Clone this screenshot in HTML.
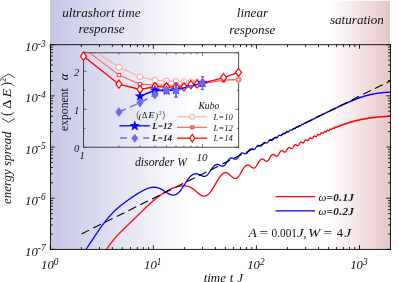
<!DOCTYPE html>
<html><head><meta charset="utf-8"><title>energy spread</title>
<style>
html,body{margin:0;padding:0;background:#fff;}
body{width:399px;height:282px;overflow:hidden;font-family:"Liberation Serif",serif;}
svg{display:block;}
text{font-family:"Liberation Serif",serif;fill:#111;}
svg{will-change:transform;}
</style></head><body>
<svg width="399" height="282" viewBox="0 0 399 282">
<defs>
<linearGradient id="gb" x1="0" x2="1" y1="0" y2="0">
<stop offset="0" stop-color="#c6c6e5"/><stop offset="1" stop-color="#ffffff"/>
</linearGradient>
<linearGradient id="gr" x1="0" x2="1" y1="0" y2="0">
<stop offset="0" stop-color="#ffffff"/><stop offset="1" stop-color="#e6c6c8"/>
</linearGradient>
<clipPath id="mainclip"><rect x="50.50" y="44.70" width="340.00" height="204.70"/></clipPath>
<clipPath id="insclip"><rect x="83.50" y="52.80" width="155.20" height="94.40"/></clipPath>
</defs>
<rect x="0" y="0" width="399" height="282" fill="#fff"/>

<rect x="50" y="0" width="140" height="249.4" fill="url(#gb)"/>
<rect x="329" y="0.8" width="61" height="248.6" fill="url(#gr)"/>
<g clip-path="url(#mainclip)" fill="none" stroke-linejoin="round">
<path d="M105.00,252.03 L105.18,251.73 L105.36,251.42 L105.54,251.12 L105.71,250.82 L105.89,250.53 L106.07,250.24 L106.25,249.95 L106.43,249.66 L106.61,249.37 L106.79,249.09 L106.96,248.81 L107.14,248.53 L107.32,248.26 L107.50,247.98 L107.68,247.71 L107.86,247.44 L108.04,247.17 L108.21,246.91 L108.39,246.65 L108.57,246.38 L108.75,246.13 L108.93,245.87 L109.11,245.61 L109.29,245.36 L109.46,245.11 L109.64,244.86 L109.82,244.61 L110.00,244.37 L110.18,244.12 L110.36,243.88 L110.54,243.64 L110.71,243.40 L110.89,243.17 L111.07,242.93 L111.25,242.70 L111.43,242.47 L111.61,242.24 L111.78,242.01 L111.96,241.78 L112.14,241.55 L112.32,241.33 L112.50,241.11 L112.68,240.89 L112.86,240.67 L113.03,240.45 L113.21,240.23 L113.39,240.01 L113.57,239.80 L113.75,239.59 L113.93,239.37 L114.11,239.16 L114.28,238.95 L114.46,238.75 L114.64,238.54 L114.82,238.33 L115.00,238.13 L115.18,237.92 L115.36,237.72 L115.53,237.52 L115.71,237.32 L115.89,237.12 L116.07,236.92 L116.25,236.72 L116.43,236.52 L116.61,236.33 L116.78,236.13 L116.96,235.94 L117.14,235.74 L117.32,235.55 L117.50,235.36 L117.68,235.17 L117.86,234.98 L118.03,234.79 L118.21,234.60 L118.39,234.41 L118.57,234.22 L118.75,234.04 L118.93,233.85 L119.11,233.66 L119.28,233.48 L119.46,233.29 L119.64,233.11 L119.82,232.93 L120.00,232.74 L120.18,232.56 L120.36,232.38 L120.53,232.20 L120.71,232.02 L120.89,231.84 L121.07,231.66 L121.25,231.48 L121.43,231.30 L121.61,231.12 L121.78,230.94 L121.96,230.77 L122.14,230.59 L122.32,230.41 L122.50,230.23 L122.68,230.06 L122.85,229.88 L123.03,229.71 L123.21,229.53 L123.39,229.36 L123.57,229.18 L123.75,229.01 L123.93,228.83 L124.10,228.66 L124.28,228.48 L124.46,228.31 L124.64,228.14 L124.82,227.96 L125.00,227.79 L125.18,227.62 L125.35,227.44 L125.53,227.27 L125.71,227.10 L125.89,226.92 L126.07,226.75 L126.25,226.58 L126.43,226.41 L126.60,226.23 L126.78,226.06 L126.96,225.89 L127.14,225.72 L127.32,225.55 L127.50,225.37 L127.68,225.20 L127.85,225.03 L128.03,224.86 L128.21,224.69 L128.39,224.51 L128.57,224.34 L128.75,224.17 L128.93,224.00 L129.10,223.83 L129.28,223.65 L129.46,223.48 L129.64,223.31 L129.82,223.14 L130.00,222.97 L130.18,222.79 L130.35,222.62 L130.53,222.45 L130.71,222.28 L130.89,222.10 L131.07,221.93 L131.25,221.76 L131.43,221.59 L131.60,221.41 L131.78,221.24 L131.96,221.07 L132.14,220.89 L132.32,220.72 L132.50,220.55 L132.68,220.37 L132.85,220.20 L133.03,220.03 L133.21,219.85 L133.39,219.68 L133.57,219.51 L133.75,219.33 L133.92,219.16 L134.10,218.98 L134.28,218.81 L134.46,218.64 L134.64,218.46 L134.82,218.29 L135.00,218.11 L135.17,217.94 L135.35,217.76 L135.53,217.59 L135.71,217.41 L135.89,217.24 L136.07,217.06 L136.25,216.89 L136.42,216.71 L136.60,216.54 L136.78,216.36 L136.96,216.19 L137.14,216.01 L137.32,215.84 L137.50,215.66 L137.67,215.49 L137.85,215.31 L138.03,215.14 L138.21,214.96 L138.39,214.79 L138.57,214.61 L138.75,214.43 L138.92,214.26 L139.10,214.08 L139.28,213.91 L139.46,213.73 L139.64,213.56 L139.82,213.38 L140.00,213.21 L140.17,213.03 L140.35,212.86 L140.53,212.68 L140.71,212.51 L140.89,212.33 L141.07,212.16 L141.25,211.98 L141.42,211.81 L141.60,211.63 L141.78,211.46 L141.96,211.28 L142.14,211.11 L142.32,210.93 L142.50,210.76 L142.67,210.59 L142.85,210.41 L143.03,210.24 L143.21,210.07 L143.39,209.89 L143.57,209.72 L143.75,209.55 L143.92,209.38 L144.10,209.20 L144.28,209.03 L144.46,208.86 L144.64,208.69 L144.82,208.52 L144.99,208.35 L145.17,208.17 L145.35,208.00 L145.53,207.83 L145.71,207.66 L145.89,207.49 L146.07,207.32 L146.24,207.16 L146.42,206.99 L146.60,206.82 L146.78,206.65 L146.96,206.48 L147.14,206.31 L147.32,206.15 L147.49,205.98 L147.67,205.81 L147.85,205.65 L148.03,205.48 L148.21,205.32 L148.39,205.15 L148.57,204.99 L148.74,204.82 L148.92,204.66 L149.10,204.49 L149.28,204.33 L149.46,204.17 L149.64,204.00 L149.82,203.84 L149.99,203.68 L150.17,203.52 L150.35,203.36 L150.53,203.20 L150.71,203.04 L150.89,202.88 L151.07,202.72 L151.24,202.56 L151.42,202.40 L151.60,202.25 L151.78,202.09 L151.96,201.93 L152.14,201.78 L152.32,201.62 L152.49,201.46 L152.67,201.31 L152.85,201.16 L153.03,201.00 L153.21,200.85 L153.39,200.70 L153.57,200.54 L153.74,200.39 L153.92,200.24 L154.10,200.09 L154.28,199.94 L154.46,199.79 L154.64,199.64 L154.82,199.49 L154.99,199.35 L155.17,199.20 L155.35,199.05 L155.53,198.91 L155.71,198.76 L155.89,198.62 L156.07,198.47 L156.24,198.33 L156.42,198.19 L156.60,198.04 L156.78,197.90 L156.96,197.76 L157.14,197.62 L157.31,197.48 L157.49,197.34 L157.67,197.20 L157.85,197.06 L158.03,196.93 L158.21,196.79 L158.39,196.65 L158.56,196.52 L158.74,196.38 L158.92,196.25 L159.10,196.12 L159.28,195.98 L159.46,195.85 L159.64,195.72 L159.81,195.59 L159.99,195.46 L160.17,195.33 L160.35,195.20 L160.53,195.07 L160.71,194.95 L160.89,194.82 L161.06,194.69 L161.24,194.57 L161.42,194.44 L161.60,194.32 L161.78,194.20 L161.96,194.07 L162.14,193.95 L162.31,193.83 L162.49,193.71 L162.67,193.59 L162.85,193.47 L163.03,193.36 L163.21,193.24 L163.39,193.12 L163.56,193.01 L163.74,192.89 L163.92,192.78 L164.10,192.67 L164.28,192.55 L164.46,192.44 L164.64,192.33 L164.81,192.22 L164.99,192.11 L165.17,192.00 L165.35,191.89 L165.53,191.79 L165.71,191.68 L165.89,191.58 L166.06,191.47 L166.24,191.37 L166.42,191.26 L166.60,191.16 L166.78,191.06 L166.96,190.96 L167.14,190.86 L167.31,190.76 L167.49,190.66 L167.67,190.57 L167.85,190.47 L168.03,190.37 L168.21,190.28 L168.38,190.19 L168.56,190.09 L168.74,190.00 L168.92,189.91 L169.10,189.82 L169.28,189.73 L169.46,189.64 L169.63,189.55 L169.81,189.46 L169.99,189.38 L170.17,189.29 L170.35,189.21 L170.53,189.13 L170.71,189.04 L170.88,188.96 L171.06,188.88 L171.24,188.80 L171.42,188.72 L171.60,188.64 L171.78,188.57 L171.96,188.49 L172.13,188.42 L172.31,188.34 L172.49,188.27 L172.67,188.19 L172.85,188.12 L173.03,188.05 L173.21,187.98 L173.38,187.91 L173.56,187.85 L173.74,187.78 L173.92,187.71 L174.10,187.65 L174.28,187.59 L174.46,187.52 L174.63,187.46 L174.81,187.40 L174.99,187.34 L175.17,187.28 L175.35,187.23 L175.53,187.17 L175.71,187.11 L175.88,187.06 L176.06,187.01 L176.24,186.95 L176.42,186.90 L176.60,186.85 L176.78,186.80 L176.96,186.76 L177.13,186.71 L177.31,186.66 L177.49,186.62 L177.67,186.57 L177.85,186.53 L178.03,186.49 L178.21,186.45 L178.38,186.41 L178.56,186.37 L178.74,186.34 L178.92,186.30 L179.10,186.27 L179.28,186.23 L179.45,186.20 L179.63,186.17 L179.81,186.14 L179.99,186.11 L180.17,186.09 L180.35,186.06 L180.53,186.04 L180.70,186.01 L180.88,185.99 L181.06,185.97 L181.24,185.95 L181.42,185.93 L181.60,185.92 L181.78,185.90 L181.95,185.89 L182.13,185.87 L182.31,185.86 L182.49,185.85 L182.67,185.84 L182.85,185.84 L183.03,185.83 L183.20,185.83 L183.38,185.82 L183.56,185.82 L183.74,185.82 L183.92,185.82 L184.10,185.83 L184.28,185.83 L184.45,185.84 L184.63,185.85 L184.81,185.86 L184.99,185.87 L185.17,185.89 L185.35,185.90 L185.53,185.92 L185.70,185.94 L185.88,185.96 L186.06,185.98 L186.24,186.01 L186.42,186.04 L186.60,186.07 L186.78,186.10 L186.95,186.13 L187.13,186.17 L187.31,186.21 L187.49,186.25 L187.67,186.29 L187.85,186.34 L188.03,186.38 L188.20,186.43 L188.38,186.49 L188.56,186.54 L188.74,186.60 L188.92,186.66 L189.10,186.73 L189.28,186.79 L189.45,186.86 L189.63,186.93 L189.81,187.01 L189.99,187.09 L190.17,187.17 L190.35,187.25 L190.53,187.34 L190.70,187.43 L190.88,187.52 L191.06,187.62 L191.24,187.72 L191.42,187.82 L191.60,187.93 L191.77,188.04 L191.95,188.15 L192.13,188.26 L192.31,188.38 L192.49,188.50 L192.67,188.62 L192.85,188.75 L193.02,188.87 L193.20,189.00 L193.38,189.14 L193.56,189.27 L193.74,189.41 L193.92,189.55 L194.10,189.69 L194.27,189.84 L194.45,189.98 L194.63,190.13 L194.81,190.28 L194.99,190.43 L195.17,190.58 L195.35,190.74 L195.52,190.89 L195.70,191.05 L195.88,191.20 L196.06,191.36 L196.24,191.52 L196.42,191.68 L196.60,191.84 L196.77,192.00 L196.95,192.15 L197.13,192.31 L197.31,192.47 L197.49,192.63 L197.67,192.78 L197.85,192.94 L198.02,193.09 L198.20,193.24 L198.38,193.39 L198.56,193.54 L198.74,193.68 L198.92,193.83 L199.10,193.97 L199.27,194.11 L199.45,194.24 L199.63,194.37 L199.81,194.50 L199.99,194.62 L200.17,194.74 L200.35,194.86 L200.52,194.97 L200.70,195.08 L200.88,195.18 L201.06,195.28 L201.24,195.37 L201.42,195.46 L201.60,195.55 L201.77,195.63 L201.95,195.70 L202.13,195.77 L202.31,195.83 L202.49,195.89 L202.67,195.94 L202.84,195.98 L203.02,196.02 L203.20,196.06 L203.38,196.08 L203.56,196.10 L203.74,196.12 L203.92,196.13 L204.09,196.13 L204.27,196.13 L204.45,196.11 L204.63,196.10 L204.81,196.07 L204.99,196.04 L205.17,196.01 L205.34,195.96 L205.52,195.91 L205.70,195.85 L205.88,195.79 L206.06,195.72 L206.24,195.64 L206.42,195.56 L206.59,195.47 L206.77,195.37 L206.95,195.26 L207.13,195.15 L207.31,195.03 L207.49,194.91 L207.67,194.78 L207.84,194.64 L208.02,194.49 L208.20,194.34 L208.38,194.18 L208.56,194.02 L208.74,193.85 L208.92,193.67 L209.09,193.49 L209.27,193.30 L209.45,193.10 L209.63,192.90 L209.81,192.70 L209.99,192.48 L210.17,192.27 L210.34,192.04 L210.52,191.81 L210.70,191.58 L210.88,191.34 L211.06,191.09 L211.24,190.84 L211.42,190.59 L211.59,190.33 L211.77,190.07 L211.95,189.80 L212.13,189.53 L212.31,189.25 L212.49,188.97 L212.67,188.69 L212.84,188.40 L213.02,188.11 L213.20,187.82 L213.38,187.52 L213.56,187.22 L213.74,186.92 L213.91,186.62 L214.09,186.31 L214.27,186.00 L214.45,185.70 L214.63,185.39 L214.81,185.07 L214.99,184.76 L215.16,184.45 L215.34,184.14 L215.52,183.82 L215.70,183.51 L215.88,183.20 L216.06,182.89 L216.24,182.57 L216.41,182.26 L216.59,181.96 L216.77,181.65 L216.95,181.35 L217.13,181.04 L217.31,180.74 L217.49,180.45 L217.66,180.15 L217.84,179.86 L218.02,179.57 L218.20,179.29 L218.38,179.01 L218.56,178.73 L218.74,178.46 L218.91,178.19 L219.09,177.93 L219.27,177.67 L219.45,177.42 L219.63,177.17 L219.81,176.92 L219.99,176.69 L220.16,176.45 L220.34,176.23 L220.52,176.00 L220.70,175.79 L220.88,175.58 L221.06,175.38 L221.24,175.18 L221.41,174.99 L221.59,174.80 L221.77,174.63 L221.95,174.46 L222.13,174.29 L222.31,174.13 L222.49,173.98 L222.66,173.84 L222.84,173.71 L223.02,173.58 L223.20,173.46 L223.38,173.34 L223.56,173.24 L223.74,173.14 L223.91,173.04 L224.09,172.96 L224.27,172.89 L224.45,172.82 L224.63,172.77 L224.81,172.73 L224.98,172.70 L225.16,172.68 L225.34,172.67 L225.52,172.67 L225.70,172.68 L225.88,172.70 L226.06,172.72 L226.23,172.76 L226.41,172.80 L226.59,172.85 L226.77,172.91 L226.95,172.98 L227.13,173.05 L227.31,173.13 L227.48,173.22 L227.66,173.32 L227.84,173.42 L228.02,173.52 L228.20,173.64 L228.38,173.75 L228.56,173.88 L228.73,174.01 L228.91,174.14 L229.09,174.28 L229.27,174.42 L229.45,174.56 L229.63,174.71 L229.81,174.86 L229.98,175.02 L230.16,175.18 L230.34,175.33 L230.52,175.49 L230.70,175.66 L230.88,175.82 L231.06,175.98 L231.23,176.14 L231.41,176.31 L231.59,176.47 L231.77,176.62 L231.95,176.78 L232.13,176.93 L232.31,177.08 L232.48,177.22 L232.66,177.36 L232.84,177.49 L233.02,177.61 L233.20,177.73 L233.38,177.84 L233.56,177.95 L233.73,178.05 L233.91,178.14 L234.09,178.23 L234.27,178.30 L234.45,178.37 L234.63,178.43 L234.81,178.48 L234.98,178.52 L235.16,178.54 L235.34,178.56 L235.52,178.56 L235.70,178.55 L235.88,178.53 L236.06,178.49 L236.23,178.44 L236.41,178.37 L236.59,178.30 L236.77,178.20 L236.95,178.10 L237.13,177.98 L237.30,177.84 L237.48,177.69 L237.66,177.53 L237.84,177.35 L238.02,177.16 L238.20,176.96 L238.38,176.75 L238.55,176.52 L238.73,176.28 L238.91,176.04 L239.09,175.78 L239.27,175.51 L239.45,175.24 L239.63,174.95 L239.80,174.66 L239.98,174.37 L240.16,174.06 L240.34,173.76 L240.52,173.45 L240.70,173.13 L240.88,172.82 L241.05,172.50 L241.23,172.18 L241.41,171.86 L241.59,171.55 L241.77,171.23 L241.95,170.92 L242.13,170.61 L242.30,170.30 L242.48,170.00 L242.66,169.70 L242.84,169.40 L243.02,169.12 L243.20,168.84 L243.38,168.56 L243.55,168.30 L243.73,168.04 L243.91,167.79 L244.09,167.55 L244.27,167.32 L244.45,167.10 L244.63,166.89 L244.80,166.69 L244.98,166.50 L245.16,166.32 L245.34,166.15 L245.52,166.00 L245.70,165.85 L245.88,165.72 L246.05,165.60 L246.23,165.49 L246.41,165.39 L246.59,165.31 L246.77,165.24 L246.95,165.18 L247.13,165.13 L247.30,165.10 L247.48,165.08 L247.66,165.07 L247.84,165.07 L248.02,165.08 L248.20,165.11 L248.37,165.15 L248.55,165.19 L248.73,165.25 L248.91,165.32 L249.09,165.40 L249.27,165.49 L249.45,165.58 L249.62,165.69 L249.80,165.80 L249.98,165.92 L250.16,166.04 L250.34,166.17 L250.52,166.30 L250.70,166.44 L250.87,166.58 L251.05,166.72 L251.23,166.86 L251.41,166.99 L251.59,167.13 L251.77,167.26 L251.95,167.39 L252.12,167.51 L252.30,167.62 L252.48,167.72 L252.66,167.82 L252.84,167.90 L253.02,167.97 L253.20,168.02 L253.37,168.06 L253.55,168.09 L253.73,168.09 L253.91,168.08 L254.09,168.05 L254.27,168.01 L254.45,167.94 L254.62,167.85 L254.80,167.74 L254.98,167.62 L255.16,167.47 L255.34,167.31 L255.52,167.13 L255.70,166.93 L255.87,166.71 L256.05,166.48 L256.23,166.23 L256.41,165.98 L256.59,165.71 L256.77,165.42 L256.95,165.14 L257.12,164.84 L257.30,164.54 L257.48,164.23 L257.66,163.92 L257.84,163.61 L258.02,163.30 L258.20,162.99 L258.37,162.69 L258.55,162.39 L258.73,162.10 L258.91,161.81 L259.09,161.54 L259.27,161.27 L259.44,161.01 L259.62,160.77 L259.80,160.54 L259.98,160.33 L260.16,160.12 L260.34,159.94 L260.52,159.77 L260.69,159.62 L260.87,159.48 L261.05,159.36 L261.23,159.26 L261.41,159.18 L261.59,159.11 L261.77,159.06 L261.94,159.03 L262.12,159.02 L262.30,159.03 L262.48,159.05 L262.66,159.09 L262.84,159.14 L263.02,159.21 L263.19,159.29 L263.37,159.38 L263.55,159.49 L263.73,159.60 L263.91,159.73 L264.09,159.86 L264.27,159.99 L264.44,160.13 L264.62,160.28 L264.80,160.42 L264.98,160.55 L265.16,160.69 L265.34,160.81 L265.52,160.93 L265.69,161.03 L265.87,161.12 L266.05,161.20 L266.23,161.26 L266.41,161.29 L266.59,161.31 L266.77,161.30 L266.94,161.27 L267.12,161.22 L267.30,161.14 L267.48,161.03 L267.66,160.90 L267.84,160.75 L268.02,160.57 L268.19,160.37 L268.37,160.15 L268.55,159.91 L268.73,159.65 L268.91,159.38 L269.09,159.10 L269.27,158.80 L269.44,158.50 L269.62,158.20 L269.80,157.89 L269.98,157.58 L270.16,157.28 L270.34,156.98 L270.52,156.69 L270.69,156.41 L270.87,156.14 L271.05,155.89 L271.23,155.65 L271.41,155.43 L271.59,155.23 L271.76,155.06 L271.94,154.90 L272.12,154.76 L272.30,154.65 L272.48,154.56 L272.66,154.49 L272.84,154.45 L273.01,154.43 L273.19,154.43 L273.37,154.45 L273.55,154.50 L273.73,154.56 L273.91,154.65 L274.09,154.74 L274.26,154.85 L274.44,154.98 L274.62,155.11 L274.80,155.25 L274.98,155.39 L275.16,155.53 L275.34,155.67 L275.51,155.80 L275.69,155.92 L275.87,156.02 L276.05,156.11 L276.23,156.18 L276.41,156.22 L276.59,156.24 L276.76,156.23 L276.94,156.20 L277.12,156.13 L277.30,156.03 L277.48,155.90 L277.66,155.74 L277.84,155.55 L278.01,155.34 L278.19,155.10 L278.37,154.85 L278.55,154.57 L278.73,154.28 L278.91,153.98 L279.09,153.68 L279.26,153.37 L279.44,153.07 L279.62,152.77 L279.80,152.48 L279.98,152.20 L280.16,151.94 L280.34,151.69 L280.51,151.47 L280.69,151.28 L280.87,151.11 L281.05,150.96 L281.23,150.84 L281.41,150.76 L281.59,150.70 L281.76,150.67 L281.94,150.67 L282.12,150.69 L282.30,150.74 L282.48,150.81 L282.66,150.91 L282.83,151.02 L283.01,151.14 L283.19,151.28 L283.37,151.41 L283.55,151.55 L283.73,151.69 L283.91,151.82 L284.08,151.93 L284.26,152.03 L284.44,152.10 L284.62,152.14 L284.80,152.16 L284.98,152.14 L285.16,152.08 L285.33,151.99 L285.51,151.86 L285.69,151.70 L285.87,151.51 L286.05,151.28 L286.23,151.03 L286.41,150.76 L286.58,150.47 L286.76,150.17 L286.94,149.86 L287.12,149.55 L287.30,149.25 L287.48,148.96 L287.66,148.68 L287.83,148.43 L288.01,148.20 L288.19,147.99 L288.37,147.82 L288.55,147.67 L288.73,147.57 L288.91,147.49 L289.08,147.45 L289.26,147.45 L289.44,147.47 L289.62,147.53 L289.80,147.61 L289.98,147.71 L290.16,147.83 L290.33,147.97 L290.51,148.10 L290.69,148.24 L290.87,148.37 L291.05,148.49 L291.23,148.59 L291.41,148.66 L291.58,148.70 L291.76,148.70 L291.94,148.66 L292.12,148.58 L292.30,148.46 L292.48,148.30 L292.66,148.10 L292.83,147.87 L293.01,147.61 L293.19,147.32 L293.37,147.03 L293.55,146.72 L293.73,146.41 L293.90,146.11 L294.08,145.82 L294.26,145.55 L294.44,145.31 L294.62,145.10 L294.80,144.93 L294.98,144.79 L295.15,144.69 L295.33,144.63 L295.51,144.61 L295.69,144.63 L295.87,144.69 L296.05,144.77 L296.23,144.88 L296.40,145.00 L296.58,145.14 L296.76,145.27 L296.94,145.40 L297.12,145.52 L297.30,145.61 L297.48,145.67 L297.65,145.69 L297.83,145.67 L298.01,145.61 L298.19,145.49 L298.37,145.33 L298.55,145.13 L298.73,144.89 L298.90,144.61 L299.08,144.32 L299.26,144.01 L299.44,143.71 L299.62,143.40 L299.80,143.11 L299.98,142.85 L300.15,142.62 L300.33,142.42 L300.51,142.27 L300.69,142.16 L300.87,142.10 L301.05,142.08 L301.23,142.10 L301.40,142.16 L301.58,142.25 L301.76,142.37 L301.94,142.50 L302.12,142.64 L302.30,142.77 L302.48,142.88 L302.65,142.97 L302.83,143.02 L303.01,143.02 L303.19,142.98 L303.37,142.88 L303.55,142.73 L303.73,142.53 L303.90,142.28 L304.08,142.01 L304.26,141.71 L304.44,141.40 L304.62,141.10 L304.80,140.80 L304.97,140.53 L305.15,140.30 L305.33,140.10 L305.51,139.96 L305.69,139.86 L305.87,139.81 L306.05,139.81 L306.22,139.86 L306.40,139.95 L306.58,140.06 L306.76,140.20 L306.94,140.33 L307.12,140.46 L307.30,140.57 L307.47,140.64 L307.65,140.67 L307.83,140.64 L308.01,140.56 L308.19,140.42 L308.37,140.22 L308.55,139.98 L308.72,139.70 L308.90,139.40 L309.08,139.09 L309.26,138.79 L309.44,138.51 L309.62,138.27 L309.80,138.06 L309.97,137.91 L310.15,137.82 L310.33,137.78 L310.51,137.79 L310.69,137.86 L310.87,137.96 L311.05,138.08 L311.22,138.22 L311.40,138.36 L311.58,138.47 L311.76,138.54 L311.94,138.57 L312.12,138.53 L312.30,138.44 L312.47,138.28 L312.65,138.06 L312.83,137.80 L313.01,137.51 L313.19,137.20 L313.37,136.90 L313.55,136.62 L313.72,136.37 L313.90,136.18 L314.08,136.04 L314.26,135.96 L314.44,135.95 L314.62,135.99 L314.80,136.08 L314.97,136.20 L315.15,136.34 L315.33,136.47 L315.51,136.59 L315.69,136.66 L315.87,136.68 L316.05,136.63 L316.22,136.51 L316.40,136.33 L316.58,136.09 L316.76,135.81 L316.94,135.51 L317.12,135.21 L317.29,134.92 L317.47,134.68 L317.65,134.49 L317.83,134.36 L318.01,134.29 L318.19,134.30 L318.37,134.36 L318.54,134.47 L318.72,134.60 L318.90,134.74 L319.08,134.87 L319.26,134.95 L319.44,134.97 L319.62,134.93 L319.79,134.81 L319.97,134.62 L320.15,134.37 L320.33,134.09 L320.51,133.78 L320.69,133.49 L320.87,133.22 L321.04,133.01 L321.22,132.86 L321.40,132.79 L321.58,132.79 L321.76,132.85 L321.94,132.96 L322.12,133.10 L322.29,133.24 L322.47,133.35 L322.65,133.42 L322.83,133.42 L323.01,133.34 L323.19,133.18 L323.37,132.95 L323.54,132.67 L323.72,132.37 L323.90,132.08 L324.08,131.81 L324.26,131.61 L324.44,131.47 L324.62,131.41 L324.79,131.42 L324.97,131.50 L325.15,131.63 L325.33,131.77 L325.51,131.90 L325.69,131.99 L325.87,132.02 L326.04,131.96 L326.22,131.82 L326.40,131.60 L326.58,131.32 L326.76,131.03 L326.94,130.73 L327.12,130.48 L327.29,130.29 L327.47,130.18 L327.65,130.15 L327.83,130.20 L328.01,130.30 L328.19,130.44 L328.36,130.59 L328.54,130.69 L328.72,130.73 L328.90,130.69 L329.08,130.55 L329.26,130.34 L329.44,130.07 L329.61,129.77 L329.79,129.48 L329.97,129.24 L330.15,129.08 L330.33,129.00 L330.51,129.01 L330.69,129.09 L330.86,129.22 L331.04,129.37 L331.22,129.49 L331.40,129.55 L331.58,129.53 L331.76,129.41 L331.94,129.20 L332.11,128.93 L332.29,128.63 L332.47,128.35 L332.65,128.13 L332.83,127.98 L333.01,127.94 L333.19,127.98 L333.36,128.09 L333.54,128.23 L333.72,128.37 L333.90,128.46 L334.08,128.47 L334.26,128.38 L334.44,128.19 L334.61,127.93 L334.79,127.63 L334.97,127.36 L335.15,127.13 L335.33,127.00 L335.51,126.97 L335.69,127.02 L335.86,127.15 L336.04,127.30 L336.22,127.43 L336.40,127.49 L336.58,127.45 L336.76,127.31 L336.94,127.08 L337.11,126.79 L337.29,126.51 L337.47,126.27 L337.65,126.12 L337.83,126.07 L338.01,126.13 L338.19,126.25 L338.36,126.41 L338.54,126.53 L338.72,126.59 L338.90,126.53 L339.08,126.37 L339.26,126.12 L339.43,125.84 L339.61,125.57 L339.79,125.36 L339.97,125.26 L340.15,125.27 L340.33,125.38 L340.51,125.53 L340.68,125.67 L340.86,125.75 L341.04,125.72 L341.22,125.58 L341.40,125.34 L341.58,125.06 L341.76,124.79 L341.93,124.60 L342.11,124.51 L342.29,124.53 L342.47,124.65 L342.65,124.81 L342.83,124.94 L343.01,124.99 L343.18,124.92 L343.36,124.74 L343.54,124.48 L343.72,124.20 L343.90,123.97 L344.08,123.83 L344.26,123.82 L344.43,123.92 L344.61,124.07 L344.79,124.22 L344.97,124.29 L345.15,124.24 L345.33,124.07 L345.51,123.81 L345.68,123.53 L345.86,123.31 L346.04,123.19 L346.22,123.20 L346.40,123.31 L346.58,123.48 L346.76,123.61 L346.93,123.65 L347.11,123.55 L347.29,123.34 L347.47,123.07 L347.65,122.81 L347.83,122.64 L348.01,122.60 L348.18,122.68 L348.36,122.84 L348.54,122.99 L348.72,123.06 L348.90,122.99 L349.08,122.80 L349.26,122.53 L349.43,122.28 L349.61,122.10 L349.79,122.07 L349.97,122.15 L350.15,122.32 L350.33,122.46 L350.51,122.51 L350.68,122.43 L350.86,122.21 L351.04,121.94 L351.22,121.70 L351.40,121.58 L351.58,121.60 L351.75,121.73 L351.93,121.90 L352.11,122.01 L352.29,121.99 L352.47,121.82 L352.65,121.56 L352.83,121.31 L353.00,121.15 L353.18,121.13 L353.36,121.25 L353.54,121.42 L353.72,121.54 L353.90,121.54 L354.08,121.38 L354.25,121.13 L354.43,120.88 L354.61,120.73 L354.79,120.72 L354.97,120.85 L355.15,121.02 L355.33,121.13 L355.50,121.10 L355.68,120.91 L355.86,120.65 L356.04,120.43 L356.22,120.33 L356.40,120.38 L356.58,120.55 L356.75,120.70 L356.93,120.75 L357.11,120.63 L357.29,120.39 L357.47,120.14 L357.65,119.99 L357.83,120.00 L358.00,120.14 L358.18,120.32 L358.36,120.40 L358.54,120.31 L358.72,120.09 L358.90,119.84 L359.08,119.68 L359.25,119.68 L359.43,119.82 L359.61,119.99 L359.79,120.07 L359.97,119.98 L360.15,119.75 L360.33,119.50 L360.50,119.37 L360.68,119.40 L360.86,119.56 L361.04,119.73 L361.22,119.76 L361.40,119.62 L361.58,119.37 L361.75,119.16 L361.93,119.09 L362.11,119.19 L362.29,119.38 L362.47,119.49 L362.65,119.43 L362.82,119.22 L363.00,118.97 L363.18,118.84 L363.36,118.89 L363.54,119.07 L363.72,119.22 L363.90,119.21 L364.07,119.02 L364.25,118.78 L364.43,118.62 L364.61,118.65 L364.79,118.82 L364.97,118.97 L365.15,118.98 L365.32,118.80 L365.50,118.55 L365.68,118.41 L365.86,118.45 L366.04,118.62 L366.22,118.77 L366.40,118.75 L366.57,118.55 L366.75,118.31 L366.93,118.20 L367.11,118.29 L367.29,118.47 L367.47,118.58 L367.65,118.50 L367.82,118.27 L368.00,118.06 L368.18,118.04 L368.36,118.19 L368.54,118.36 L368.72,118.38 L368.90,118.20 L369.07,117.97 L369.25,117.86 L369.43,117.95 L369.61,118.14 L369.79,118.23 L369.97,118.11 L370.15,117.87 L370.32,117.71 L370.50,117.76 L370.68,117.94 L370.86,118.07 L371.04,117.99 L371.22,117.75 L371.40,117.58 L371.57,117.60 L371.75,117.78 L371.93,117.92 L372.11,117.84 L372.29,117.62 L372.47,117.44 L372.65,117.48 L372.82,117.67 L373.00,117.78 L373.18,117.69 L373.36,117.45 L373.54,117.31 L373.72,117.39 L373.89,117.58 L374.07,117.66 L374.25,117.51 L374.43,117.28 L374.61,117.20 L374.79,117.34 L374.97,117.51 L375.14,117.51 L375.32,117.30 L375.50,117.11 L375.68,117.14 L375.86,117.32 L376.04,117.43 L376.22,117.31 L376.39,117.08 L376.57,117.00 L376.75,117.14 L376.93,117.31 L377.11,117.28 L377.29,117.06 L377.47,116.91 L377.64,116.99 L377.82,117.18 L378.00,117.22 L378.18,117.03 L378.36,116.84 L378.54,116.87 L378.72,117.07 L378.89,117.14 L379.07,116.98 L379.25,116.78 L379.43,116.78 L379.61,116.97 L379.79,117.06 L379.97,116.91 L380.14,116.70 L380.32,116.71 L380.50,116.90 L380.68,116.98 L380.86,116.82 L381.04,116.63 L381.22,116.66 L381.39,116.85 L381.57,116.90 L381.75,116.72 L381.93,116.55 L382.11,116.63 L382.29,116.82 L382.47,116.81 L382.64,116.60 L382.82,116.49 L383.00,116.63 L383.18,116.78 L383.36,116.69 L383.54,116.47 L383.72,116.46 L383.89,116.65 L384.07,116.72 L384.25,116.54 L384.43,116.38 L384.61,116.48 L384.79,116.66 L384.96,116.60 L385.14,116.38 L385.32,116.36 L385.50,116.55 L385.68,116.61 L385.86,116.41 L386.04,116.29 L386.21,116.42 L386.39,116.57 L386.57,116.45 L386.75,116.26 L386.93,116.32 L387.11,116.51 L387.29,116.46 L387.46,116.25 L387.64,116.24 L387.82,116.43 L388.00,116.45 L388.18,116.24 L388.36,116.18 L388.54,116.36 L388.71,116.43 L388.89,116.23 L389.07,116.14 L389.25,116.31 L389.43,116.39 L389.61,116.21 L389.79,116.10 L389.96,116.27 L390.14,116.36 L390.32,116.17 L390.50,116.07" stroke="#ff0000" stroke-width="1.3"/>
<path d="M84.00,252.06 L84.19,251.80 L84.38,251.54 L84.58,251.28 L84.77,251.01 L84.96,250.75 L85.15,250.48 L85.34,250.21 L85.53,249.94 L85.73,249.67 L85.92,249.40 L86.11,249.13 L86.30,248.85 L86.49,248.58 L86.68,248.30 L86.88,248.03 L87.07,247.75 L87.26,247.47 L87.45,247.19 L87.64,246.91 L87.83,246.63 L88.03,246.35 L88.22,246.06 L88.41,245.78 L88.60,245.50 L88.79,245.21 L88.98,244.93 L89.18,244.64 L89.37,244.35 L89.56,244.07 L89.75,243.78 L89.94,243.49 L90.13,243.20 L90.33,242.91 L90.52,242.63 L90.71,242.34 L90.90,242.05 L91.09,241.76 L91.28,241.47 L91.48,241.18 L91.67,240.89 L91.86,240.60 L92.05,240.31 L92.24,240.02 L92.43,239.73 L92.63,239.44 L92.82,239.14 L93.01,238.85 L93.20,238.56 L93.39,238.27 L93.58,237.98 L93.78,237.69 L93.97,237.40 L94.16,237.11 L94.35,236.82 L94.54,236.54 L94.73,236.25 L94.93,235.96 L95.12,235.67 L95.31,235.38 L95.50,235.10 L95.69,234.81 L95.88,234.52 L96.08,234.24 L96.27,233.95 L96.46,233.66 L96.65,233.38 L96.84,233.10 L97.03,232.81 L97.23,232.53 L97.42,232.25 L97.61,231.96 L97.80,231.68 L97.99,231.40 L98.18,231.12 L98.38,230.84 L98.57,230.57 L98.76,230.29 L98.95,230.01 L99.14,229.73 L99.33,229.46 L99.53,229.18 L99.72,228.91 L99.91,228.64 L100.10,228.37 L100.29,228.09 L100.48,227.82 L100.68,227.55 L100.87,227.29 L101.06,227.02 L101.25,226.75 L101.44,226.48 L101.63,226.22 L101.83,225.96 L102.02,225.69 L102.21,225.43 L102.40,225.17 L102.59,224.91 L102.78,224.65 L102.98,224.39 L103.17,224.14 L103.36,223.88 L103.55,223.63 L103.74,223.37 L103.93,223.12 L104.13,222.87 L104.32,222.62 L104.51,222.37 L104.70,222.12 L104.89,221.87 L105.09,221.63 L105.28,221.38 L105.47,221.14 L105.66,220.90 L105.85,220.66 L106.04,220.42 L106.24,220.18 L106.43,219.94 L106.62,219.71 L106.81,219.47 L107.00,219.24 L107.19,219.00 L107.39,218.77 L107.58,218.54 L107.77,218.31 L107.96,218.09 L108.15,217.86 L108.34,217.63 L108.54,217.41 L108.73,217.19 L108.92,216.97 L109.11,216.75 L109.30,216.53 L109.49,216.31 L109.69,216.09 L109.88,215.88 L110.07,215.66 L110.26,215.45 L110.45,215.24 L110.64,215.03 L110.84,214.82 L111.03,214.61 L111.22,214.40 L111.41,214.20 L111.60,213.99 L111.79,213.79 L111.99,213.59 L112.18,213.39 L112.37,213.19 L112.56,212.99 L112.75,212.79 L112.94,212.60 L113.14,212.40 L113.33,212.21 L113.52,212.02 L113.71,211.83 L113.90,211.64 L114.09,211.45 L114.29,211.26 L114.48,211.08 L114.67,210.89 L114.86,210.71 L115.05,210.52 L115.24,210.34 L115.44,210.16 L115.63,209.98 L115.82,209.80 L116.01,209.63 L116.20,209.45 L116.39,209.27 L116.59,209.10 L116.78,208.93 L116.97,208.75 L117.16,208.58 L117.35,208.41 L117.54,208.24 L117.74,208.08 L117.93,207.91 L118.12,207.74 L118.31,207.58 L118.50,207.41 L118.69,207.25 L118.89,207.09 L119.08,206.93 L119.27,206.76 L119.46,206.60 L119.65,206.45 L119.84,206.29 L120.04,206.13 L120.23,205.97 L120.42,205.82 L120.61,205.66 L120.80,205.51 L120.99,205.35 L121.19,205.20 L121.38,205.05 L121.57,204.90 L121.76,204.75 L121.95,204.60 L122.14,204.45 L122.34,204.30 L122.53,204.15 L122.72,204.00 L122.91,203.85 L123.10,203.71 L123.29,203.56 L123.49,203.42 L123.68,203.27 L123.87,203.13 L124.06,202.98 L124.25,202.84 L124.44,202.69 L124.64,202.55 L124.83,202.41 L125.02,202.27 L125.21,202.13 L125.40,201.99 L125.60,201.84 L125.79,201.70 L125.98,201.56 L126.17,201.43 L126.36,201.29 L126.55,201.15 L126.75,201.01 L126.94,200.87 L127.13,200.73 L127.32,200.60 L127.51,200.46 L127.70,200.32 L127.90,200.19 L128.09,200.05 L128.28,199.91 L128.47,199.78 L128.66,199.64 L128.85,199.51 L129.05,199.38 L129.24,199.24 L129.43,199.11 L129.62,198.97 L129.81,198.84 L130.00,198.71 L130.20,198.57 L130.39,198.44 L130.58,198.31 L130.77,198.18 L130.96,198.05 L131.15,197.92 L131.35,197.78 L131.54,197.65 L131.73,197.52 L131.92,197.39 L132.11,197.26 L132.30,197.13 L132.50,197.00 L132.69,196.87 L132.88,196.75 L133.07,196.62 L133.26,196.49 L133.45,196.36 L133.65,196.23 L133.84,196.11 L134.03,195.98 L134.22,195.85 L134.41,195.73 L134.60,195.60 L134.80,195.48 L134.99,195.35 L135.18,195.23 L135.37,195.10 L135.56,194.98 L135.75,194.85 L135.95,194.73 L136.14,194.61 L136.33,194.49 L136.52,194.36 L136.71,194.24 L136.90,194.12 L137.10,194.00 L137.29,193.88 L137.48,193.76 L137.67,193.64 L137.86,193.52 L138.05,193.40 L138.25,193.29 L138.44,193.17 L138.63,193.05 L138.82,192.94 L139.01,192.82 L139.20,192.71 L139.40,192.59 L139.59,192.48 L139.78,192.36 L139.97,192.25 L140.16,192.14 L140.35,192.03 L140.55,191.92 L140.74,191.81 L140.93,191.70 L141.12,191.59 L141.31,191.48 L141.50,191.38 L141.70,191.27 L141.89,191.17 L142.08,191.06 L142.27,190.96 L142.46,190.86 L142.65,190.75 L142.85,190.65 L143.04,190.55 L143.23,190.45 L143.42,190.36 L143.61,190.26 L143.80,190.16 L144.00,190.07 L144.19,189.97 L144.38,189.88 L144.57,189.79 L144.76,189.70 L144.95,189.61 L145.15,189.52 L145.34,189.44 L145.53,189.35 L145.72,189.27 L145.91,189.18 L146.11,189.10 L146.30,189.02 L146.49,188.94 L146.68,188.86 L146.87,188.79 L147.06,188.71 L147.26,188.64 L147.45,188.57 L147.64,188.50 L147.83,188.43 L148.02,188.36 L148.21,188.29 L148.41,188.23 L148.60,188.17 L148.79,188.11 L148.98,188.05 L149.17,187.99 L149.36,187.93 L149.56,187.88 L149.75,187.83 L149.94,187.78 L150.13,187.73 L150.32,187.68 L150.51,187.64 L150.71,187.60 L150.90,187.56 L151.09,187.52 L151.28,187.48 L151.47,187.45 L151.66,187.42 L151.86,187.39 L152.05,187.36 L152.24,187.34 L152.43,187.32 L152.62,187.30 L152.81,187.28 L153.01,187.26 L153.20,187.25 L153.39,187.24 L153.58,187.23 L153.77,187.23 L153.96,187.23 L154.16,187.23 L154.35,187.23 L154.54,187.23 L154.73,187.24 L154.92,187.25 L155.11,187.27 L155.31,187.29 L155.50,187.31 L155.69,187.33 L155.88,187.35 L156.07,187.38 L156.26,187.42 L156.46,187.45 L156.65,187.49 L156.84,187.53 L157.03,187.57 L157.22,187.62 L157.41,187.67 L157.61,187.72 L157.80,187.78 L157.99,187.83 L158.18,187.90 L158.37,187.96 L158.56,188.03 L158.76,188.10 L158.95,188.17 L159.14,188.24 L159.33,188.32 L159.52,188.40 L159.71,188.48 L159.91,188.57 L160.10,188.66 L160.29,188.75 L160.48,188.84 L160.67,188.94 L160.86,189.04 L161.06,189.13 L161.25,189.24 L161.44,189.34 L161.63,189.45 L161.82,189.55 L162.01,189.66 L162.21,189.78 L162.40,189.89 L162.59,190.00 L162.78,190.12 L162.97,190.24 L163.16,190.36 L163.36,190.48 L163.55,190.60 L163.74,190.72 L163.93,190.84 L164.12,190.97 L164.31,191.09 L164.51,191.21 L164.70,191.34 L164.89,191.46 L165.08,191.59 L165.27,191.72 L165.46,191.84 L165.66,191.97 L165.85,192.09 L166.04,192.21 L166.23,192.34 L166.42,192.46 L166.62,192.58 L166.81,192.70 L167.00,192.82 L167.19,192.94 L167.38,193.05 L167.57,193.16 L167.77,193.28 L167.96,193.39 L168.15,193.49 L168.34,193.60 L168.53,193.70 L168.72,193.80 L168.92,193.90 L169.11,193.99 L169.30,194.09 L169.49,194.17 L169.68,194.26 L169.87,194.34 L170.07,194.42 L170.26,194.49 L170.45,194.57 L170.64,194.63 L170.83,194.70 L171.02,194.75 L171.22,194.81 L171.41,194.86 L171.60,194.91 L171.79,194.95 L171.98,194.98 L172.17,195.02 L172.37,195.04 L172.56,195.06 L172.75,195.08 L172.94,195.09 L173.13,195.10 L173.32,195.10 L173.52,195.09 L173.71,195.08 L173.90,195.07 L174.09,195.05 L174.28,195.02 L174.47,194.98 L174.67,194.94 L174.86,194.90 L175.05,194.84 L175.24,194.78 L175.43,194.72 L175.62,194.64 L175.82,194.56 L176.01,194.48 L176.20,194.38 L176.39,194.28 L176.58,194.18 L176.77,194.06 L176.97,193.94 L177.16,193.81 L177.35,193.68 L177.54,193.53 L177.73,193.38 L177.92,193.22 L178.12,193.06 L178.31,192.89 L178.50,192.71 L178.69,192.52 L178.88,192.33 L179.07,192.13 L179.27,191.93 L179.46,191.72 L179.65,191.50 L179.84,191.27 L180.03,191.04 L180.22,190.81 L180.42,190.57 L180.61,190.32 L180.80,190.07 L180.99,189.81 L181.18,189.55 L181.37,189.29 L181.57,189.02 L181.76,188.74 L181.95,188.47 L182.14,188.19 L182.33,187.90 L182.52,187.62 L182.72,187.33 L182.91,187.04 L183.10,186.75 L183.29,186.45 L183.48,186.15 L183.67,185.86 L183.87,185.56 L184.06,185.26 L184.25,184.96 L184.44,184.65 L184.63,184.35 L184.82,184.05 L185.02,183.75 L185.21,183.45 L185.40,183.15 L185.59,182.85 L185.78,182.56 L185.97,182.26 L186.17,181.97 L186.36,181.67 L186.55,181.38 L186.74,181.10 L186.93,180.81 L187.13,180.53 L187.32,180.26 L187.51,179.98 L187.70,179.71 L187.89,179.45 L188.08,179.18 L188.28,178.93 L188.47,178.67 L188.66,178.43 L188.85,178.18 L189.04,177.95 L189.23,177.71 L189.43,177.49 L189.62,177.27 L189.81,177.05 L190.00,176.85 L190.19,176.65 L190.38,176.45 L190.58,176.26 L190.77,176.08 L190.96,175.91 L191.15,175.74 L191.34,175.58 L191.53,175.43 L191.73,175.28 L191.92,175.14 L192.11,175.01 L192.30,174.88 L192.49,174.77 L192.68,174.65 L192.88,174.55 L193.07,174.45 L193.26,174.35 L193.45,174.27 L193.64,174.19 L193.83,174.12 L194.03,174.05 L194.22,173.99 L194.41,173.93 L194.60,173.89 L194.79,173.84 L194.98,173.81 L195.18,173.78 L195.37,173.76 L195.56,173.74 L195.75,173.73 L195.94,173.73 L196.13,173.73 L196.33,173.74 L196.52,173.76 L196.71,173.78 L196.90,173.80 L197.09,173.84 L197.28,173.87 L197.48,173.92 L197.67,173.96 L197.86,174.02 L198.05,174.07 L198.24,174.14 L198.43,174.20 L198.63,174.28 L198.82,174.35 L199.01,174.43 L199.20,174.51 L199.39,174.60 L199.58,174.69 L199.78,174.78 L199.97,174.87 L200.16,174.96 L200.35,175.06 L200.54,175.15 L200.73,175.25 L200.93,175.35 L201.12,175.44 L201.31,175.53 L201.50,175.63 L201.69,175.72 L201.88,175.80 L202.08,175.89 L202.27,175.97 L202.46,176.04 L202.65,176.11 L202.84,176.18 L203.03,176.23 L203.23,176.28 L203.42,176.33 L203.61,176.36 L203.80,176.39 L203.99,176.41 L204.18,176.41 L204.38,176.41 L204.57,176.40 L204.76,176.38 L204.95,176.34 L205.14,176.29 L205.33,176.24 L205.53,176.16 L205.72,176.08 L205.91,175.99 L206.10,175.88 L206.29,175.76 L206.48,175.63 L206.68,175.48 L206.87,175.33 L207.06,175.16 L207.25,174.98 L207.44,174.79 L207.64,174.58 L207.83,174.37 L208.02,174.15 L208.21,173.92 L208.40,173.68 L208.59,173.43 L208.79,173.18 L208.98,172.91 L209.17,172.65 L209.36,172.37 L209.55,172.09 L209.74,171.81 L209.94,171.53 L210.13,171.24 L210.32,170.95 L210.51,170.66 L210.70,170.37 L210.89,170.09 L211.09,169.80 L211.28,169.51 L211.47,169.23 L211.66,168.95 L211.85,168.68 L212.04,168.41 L212.24,168.14 L212.43,167.88 L212.62,167.63 L212.81,167.38 L213.00,167.14 L213.19,166.91 L213.39,166.69 L213.58,166.48 L213.77,166.27 L213.96,166.08 L214.15,165.90 L214.34,165.72 L214.54,165.56 L214.73,165.41 L214.92,165.27 L215.11,165.14 L215.30,165.02 L215.49,164.91 L215.69,164.81 L215.88,164.73 L216.07,164.66 L216.26,164.60 L216.45,164.55 L216.64,164.51 L216.84,164.48 L217.03,164.47 L217.22,164.46 L217.41,164.47 L217.60,164.48 L217.79,164.51 L217.99,164.55 L218.18,164.59 L218.37,164.64 L218.56,164.71 L218.75,164.77 L218.94,164.85 L219.14,164.93 L219.33,165.02 L219.52,165.10 L219.71,165.20 L219.90,165.29 L220.09,165.39 L220.29,165.48 L220.48,165.58 L220.67,165.67 L220.86,165.76 L221.05,165.84 L221.24,165.92 L221.44,165.99 L221.63,166.05 L221.82,166.10 L222.01,166.14 L222.20,166.17 L222.39,166.19 L222.59,166.19 L222.78,166.17 L222.97,166.15 L223.16,166.10 L223.35,166.04 L223.54,165.96 L223.74,165.86 L223.93,165.75 L224.12,165.62 L224.31,165.47 L224.50,165.30 L224.69,165.12 L224.89,164.93 L225.08,164.71 L225.27,164.49 L225.46,164.25 L225.65,164.00 L225.84,163.75 L226.04,163.48 L226.23,163.20 L226.42,162.93 L226.61,162.64 L226.80,162.36 L226.99,162.07 L227.19,161.78 L227.38,161.50 L227.57,161.22 L227.76,160.94 L227.95,160.67 L228.15,160.41 L228.34,160.15 L228.53,159.91 L228.72,159.67 L228.91,159.45 L229.10,159.24 L229.30,159.05 L229.49,158.87 L229.68,158.70 L229.87,158.55 L230.06,158.42 L230.25,158.30 L230.45,158.20 L230.64,158.12 L230.83,158.05 L231.02,158.00 L231.21,157.96 L231.40,157.95 L231.60,157.94 L231.79,157.95 L231.98,157.98 L232.17,158.02 L232.36,158.07 L232.55,158.13 L232.75,158.21 L232.94,158.29 L233.13,158.37 L233.32,158.46 L233.51,158.56 L233.70,158.65 L233.90,158.75 L234.09,158.84 L234.28,158.93 L234.47,159.00 L234.66,159.07 L234.85,159.13 L235.05,159.18 L235.24,159.20 L235.43,159.22 L235.62,159.21 L235.81,159.18 L236.00,159.13 L236.20,159.06 L236.39,158.97 L236.58,158.85 L236.77,158.72 L236.96,158.56 L237.15,158.38 L237.35,158.18 L237.54,157.96 L237.73,157.72 L237.92,157.47 L238.11,157.21 L238.30,156.94 L238.50,156.66 L238.69,156.38 L238.88,156.09 L239.07,155.81 L239.26,155.52 L239.45,155.24 L239.65,154.97 L239.84,154.71 L240.03,154.46 L240.22,154.23 L240.41,154.01 L240.60,153.81 L240.80,153.63 L240.99,153.46 L241.18,153.32 L241.37,153.20 L241.56,153.10 L241.75,153.02 L241.95,152.96 L242.14,152.93 L242.33,152.91 L242.52,152.92 L242.71,152.94 L242.90,152.98 L243.10,153.04 L243.29,153.10 L243.48,153.18 L243.67,153.27 L243.86,153.36 L244.05,153.46 L244.25,153.55 L244.44,153.64 L244.63,153.73 L244.82,153.80 L245.01,153.86 L245.20,153.90 L245.40,153.92 L245.59,153.92 L245.78,153.89 L245.97,153.84 L246.16,153.76 L246.35,153.65 L246.55,153.52 L246.74,153.35 L246.93,153.17 L247.12,152.96 L247.31,152.73 L247.51,152.48 L247.70,152.21 L247.89,151.94 L248.08,151.66 L248.27,151.37 L248.46,151.09 L248.66,150.81 L248.85,150.53 L249.04,150.27 L249.23,150.02 L249.42,149.79 L249.61,149.59 L249.81,149.40 L250.00,149.24 L250.19,149.10 L250.38,148.99 L250.57,148.91 L250.76,148.85 L250.96,148.82 L251.15,148.81 L251.34,148.83 L251.53,148.87 L251.72,148.93 L251.91,149.00 L252.11,149.08 L252.30,149.17 L252.49,149.27 L252.68,149.36 L252.87,149.45 L253.06,149.53 L253.26,149.59 L253.45,149.63 L253.64,149.65 L253.83,149.64 L254.02,149.60 L254.21,149.52 L254.41,149.42 L254.60,149.28 L254.79,149.11 L254.98,148.91 L255.17,148.69 L255.36,148.44 L255.56,148.18 L255.75,147.90 L255.94,147.62 L256.13,147.34 L256.32,147.05 L256.51,146.78 L256.71,146.52 L256.90,146.28 L257.09,146.06 L257.28,145.87 L257.47,145.71 L257.66,145.57 L257.86,145.47 L258.05,145.40 L258.24,145.36 L258.43,145.35 L258.62,145.37 L258.81,145.42 L259.01,145.48 L259.20,145.56 L259.39,145.65 L259.58,145.75 L259.77,145.84 L259.96,145.92 L260.16,145.99 L260.35,146.04 L260.54,146.07 L260.73,146.06 L260.92,146.01 L261.11,145.93 L261.31,145.81 L261.50,145.66 L261.69,145.47 L261.88,145.25 L262.07,145.00 L262.26,144.73 L262.46,144.45 L262.65,144.17 L262.84,143.88 L263.03,143.61 L263.22,143.35 L263.41,143.11 L263.61,142.90 L263.80,142.72 L263.99,142.58 L264.18,142.47 L264.37,142.40 L264.56,142.37 L264.76,142.37 L264.95,142.40 L265.14,142.45 L265.33,142.53 L265.52,142.62 L265.71,142.71 L265.91,142.81 L266.10,142.89 L266.29,142.95 L266.48,142.98 L266.67,142.98 L266.86,142.94 L267.06,142.86 L267.25,142.73 L267.44,142.57 L267.63,142.36 L267.82,142.13 L268.02,141.86 L268.21,141.59 L268.40,141.30 L268.59,141.02 L268.78,140.75 L268.97,140.50 L269.17,140.27 L269.36,140.08 L269.55,139.93 L269.74,139.82 L269.93,139.75 L270.12,139.73 L270.32,139.74 L270.51,139.78 L270.70,139.85 L270.89,139.94 L271.08,140.03 L271.27,140.13 L271.47,140.20 L271.66,140.26 L271.85,140.28 L272.04,140.26 L272.23,140.19 L272.42,140.08 L272.62,139.92 L272.81,139.72 L273.00,139.48 L273.19,139.21 L273.38,138.93 L273.57,138.65 L273.77,138.37 L273.96,138.11 L274.15,137.88 L274.34,137.69 L274.53,137.54 L274.72,137.44 L274.92,137.38 L275.11,137.37 L275.30,137.40 L275.49,137.46 L275.68,137.55 L275.87,137.64 L276.07,137.73 L276.26,137.81 L276.45,137.86 L276.64,137.86 L276.83,137.83 L277.02,137.73 L277.22,137.59 L277.41,137.40 L277.60,137.16 L277.79,136.90 L277.98,136.62 L278.17,136.33 L278.37,136.06 L278.56,135.81 L278.75,135.60 L278.94,135.44 L279.13,135.32 L279.32,135.26 L279.52,135.24 L279.71,135.28 L279.90,135.34 L280.09,135.43 L280.28,135.52 L280.47,135.61 L280.67,135.67 L280.86,135.69 L281.05,135.67 L281.24,135.58 L281.43,135.44 L281.62,135.24 L281.82,135.01 L282.01,134.74 L282.20,134.45 L282.39,134.17 L282.58,133.91 L282.77,133.69 L282.97,133.51 L283.16,133.38 L283.35,133.32 L283.54,133.30 L283.73,133.34 L283.92,133.41 L284.12,133.50 L284.31,133.59 L284.50,133.67 L284.69,133.71 L284.88,133.70 L285.07,133.63 L285.27,133.50 L285.46,133.31 L285.65,133.07 L285.84,132.79 L286.03,132.51 L286.22,132.23 L286.42,131.98 L286.61,131.78 L286.80,131.63 L286.99,131.54 L287.18,131.52 L287.37,131.54 L287.57,131.61 L287.76,131.70 L287.95,131.80 L288.14,131.87 L288.33,131.90 L288.53,131.87 L288.72,131.77 L288.91,131.61 L289.10,131.39 L289.29,131.13 L289.48,130.84 L289.68,130.56 L289.87,130.31 L290.06,130.11 L290.25,129.96 L290.44,129.88 L290.63,129.87 L290.83,129.91 L291.02,129.99 L291.21,130.08 L291.40,130.16 L291.59,130.21 L291.78,130.20 L291.98,130.12 L292.17,129.97 L292.36,129.76 L292.55,129.50 L292.74,129.21 L292.93,128.94 L293.13,128.69 L293.32,128.50 L293.51,128.38 L293.70,128.33 L293.89,128.34 L294.08,128.41 L294.28,128.50 L294.47,128.59 L294.66,128.65 L294.85,128.65 L295.04,128.57 L295.23,128.42 L295.43,128.20 L295.62,127.93 L295.81,127.65 L296.00,127.38 L296.19,127.15 L296.38,126.99 L296.58,126.90 L296.77,126.89 L296.96,126.94 L297.15,127.03 L297.34,127.12 L297.53,127.19 L297.73,127.19 L297.92,127.12 L298.11,126.96 L298.30,126.74 L298.49,126.47 L298.68,126.18 L298.88,125.92 L299.07,125.72 L299.26,125.59 L299.45,125.54 L299.64,125.57 L299.83,125.64 L300.03,125.74 L300.22,125.81 L300.41,125.83 L300.60,125.77 L300.79,125.62 L300.98,125.39 L301.18,125.12 L301.37,124.84 L301.56,124.58 L301.75,124.40 L301.94,124.29 L302.13,124.27 L302.33,124.32 L302.52,124.41 L302.71,124.50 L302.90,124.54 L303.09,124.51 L303.28,124.38 L303.48,124.17 L303.67,123.91 L303.86,123.62 L304.05,123.37 L304.24,123.18 L304.43,123.08 L304.63,123.07 L304.82,123.13 L305.01,123.22 L305.20,123.30 L305.39,123.32 L305.58,123.25 L305.78,123.09 L305.97,122.84 L306.16,122.56 L306.35,122.29 L306.54,122.08 L306.73,121.96 L306.93,121.93 L307.12,121.98 L307.31,122.07 L307.50,122.15 L307.69,122.17 L307.88,122.10 L308.08,121.92 L308.27,121.67 L308.46,121.39 L308.65,121.13 L308.84,120.94 L309.04,120.85 L309.23,120.86 L309.42,120.93 L309.61,121.02 L309.80,121.08 L309.99,121.04 L310.19,120.90 L310.38,120.67 L310.57,120.39 L310.76,120.12 L310.95,119.92 L311.14,119.82 L311.34,119.82 L311.53,119.90 L311.72,119.99 L311.91,120.03 L312.10,119.98 L312.29,119.82 L312.49,119.57 L312.68,119.29 L312.87,119.04 L313.06,118.88 L313.25,118.83 L313.44,118.87 L313.64,118.96 L313.83,119.03 L314.02,119.02 L314.21,118.90 L314.40,118.67 L314.59,118.39 L314.79,118.13 L314.98,117.95 L315.17,117.88 L315.36,117.92 L315.55,118.01 L315.74,118.08 L315.94,118.06 L316.13,117.93 L316.32,117.69 L316.51,117.41 L316.70,117.16 L316.89,117.01 L317.09,116.98 L317.28,117.05 L317.47,117.14 L317.66,117.18 L317.85,117.10 L318.04,116.91 L318.24,116.63 L318.43,116.37 L318.62,116.18 L318.81,116.11 L319.00,116.16 L319.19,116.25 L319.39,116.30 L319.58,116.25 L319.77,116.06 L319.96,115.79 L320.15,115.52 L320.34,115.34 L320.54,115.28 L320.73,115.33 L320.92,115.42 L321.11,115.46 L321.30,115.38 L321.49,115.17 L321.69,114.89 L321.88,114.64 L322.07,114.50 L322.26,114.49 L322.45,114.57 L322.64,114.65 L322.84,114.63 L323.03,114.47 L323.22,114.21 L323.41,113.94 L323.60,113.76 L323.79,113.71 L323.99,113.77 L324.18,113.86 L324.37,113.86 L324.56,113.73 L324.75,113.48 L324.94,113.21 L325.14,113.01 L325.33,112.96 L325.52,113.02 L325.71,113.11 L325.90,113.11 L326.09,112.96 L326.29,112.70 L326.48,112.43 L326.67,112.27 L326.86,112.25 L327.05,112.33 L327.24,112.40 L327.44,112.35 L327.63,112.15 L327.82,111.87 L328.01,111.64 L328.20,111.55 L328.39,111.59 L328.59,111.68 L328.78,111.69 L328.97,111.55 L329.16,111.28 L329.35,111.03 L329.55,110.89 L329.74,110.90 L329.93,110.99 L330.12,111.02 L330.31,110.91 L330.50,110.65 L330.70,110.39 L330.89,110.24 L331.08,110.25 L331.27,110.34 L331.46,110.37 L331.65,110.24 L331.85,109.99 L332.04,109.73 L332.23,109.60 L332.42,109.63 L332.61,109.72 L332.80,109.72 L333.00,109.56 L333.19,109.28 L333.38,109.06 L333.57,108.99 L333.76,109.06 L333.95,109.13 L334.15,109.06 L334.34,108.83 L334.53,108.56 L334.72,108.41 L334.91,108.43 L335.10,108.52 L335.30,108.52 L335.49,108.34 L335.68,108.06 L335.87,107.86 L336.06,107.84 L336.25,107.92 L336.45,107.96 L336.64,107.81 L336.83,107.55 L337.02,107.33 L337.21,107.28 L337.40,107.36 L337.60,107.40 L337.79,107.27 L337.98,107.00 L338.17,106.78 L338.36,106.74 L338.55,106.82 L338.75,106.86 L338.94,106.71 L339.13,106.44 L339.32,106.24 L339.51,106.23 L339.70,106.32 L339.90,106.31 L340.09,106.12 L340.28,105.85 L340.47,105.71 L340.66,105.75 L340.85,105.83 L341.05,105.75 L341.24,105.51 L341.43,105.27 L341.62,105.22 L341.81,105.30 L342.00,105.32 L342.20,105.14 L342.39,104.88 L342.58,104.74 L342.77,104.79 L342.96,104.86 L343.15,104.75 L343.35,104.49 L343.54,104.29 L343.73,104.30 L343.92,104.39 L344.11,104.33 L344.30,104.09 L344.50,103.86 L344.69,103.84 L344.88,103.93 L345.07,103.90 L345.26,103.67 L345.45,103.44 L345.65,103.40 L345.84,103.49 L346.03,103.47 L346.22,103.24 L346.41,103.01 L346.60,102.98 L346.80,103.07 L346.99,103.03 L347.18,102.79 L347.37,102.58 L347.56,102.58 L347.75,102.66 L347.95,102.58 L348.14,102.33 L348.33,102.16 L348.52,102.20 L348.71,102.27 L348.90,102.12 L349.10,101.86 L349.29,101.77 L349.48,101.85 L349.67,101.85 L349.86,101.63 L350.06,101.41 L350.25,101.42 L350.44,101.50 L350.63,101.39 L350.82,101.13 L351.01,101.03 L351.21,101.11 L351.40,101.11 L351.59,100.88 L351.78,100.69 L351.97,100.72 L352.16,100.78 L352.36,100.62 L352.55,100.38 L352.74,100.35 L352.93,100.44 L353.12,100.35 L353.31,100.10 L353.51,100.00 L353.70,100.10 L353.89,100.06 L354.08,99.82 L354.27,99.68 L354.46,99.76 L354.66,99.76 L354.85,99.53 L355.04,99.37 L355.23,99.44 L355.42,99.46 L355.61,99.23 L355.81,99.07 L356.00,99.14 L356.19,99.16 L356.38,98.93 L356.57,98.78 L356.76,98.86 L356.96,98.85 L357.15,98.62 L357.34,98.50 L357.53,98.59 L357.72,98.55 L357.91,98.31 L358.11,98.24 L358.30,98.34 L358.49,98.24 L358.68,98.00 L358.87,98.00 L359.06,98.08 L359.26,97.91 L359.45,97.72 L359.64,97.78 L359.83,97.80 L360.02,97.57 L360.21,97.47 L360.41,97.57 L360.60,97.48 L360.79,97.26 L360.98,97.28 L361.17,97.34 L361.36,97.14 L361.56,97.01 L361.75,97.11 L361.94,97.04 L362.13,96.82 L362.32,96.83 L362.51,96.89 L362.71,96.69 L362.90,96.58 L363.09,96.69 L363.28,96.58 L363.47,96.38 L363.66,96.45 L363.86,96.45 L364.05,96.23 L364.24,96.21 L364.43,96.29 L364.62,96.10 L364.81,96.00 L365.01,96.10 L365.20,95.98 L365.39,95.81 L365.58,95.91 L365.77,95.85 L365.96,95.65 L366.16,95.71 L366.35,95.71 L366.54,95.50 L366.73,95.52 L366.92,95.56 L367.11,95.36 L367.31,95.35 L367.50,95.41 L367.69,95.21 L367.88,95.19 L368.07,95.27 L368.26,95.07 L368.46,95.04 L368.65,95.12 L368.84,94.93 L369.03,94.90 L369.22,94.98 L369.41,94.78 L369.61,94.77 L369.80,94.83 L369.99,94.64 L370.18,94.65 L370.37,94.69 L370.57,94.49 L370.76,94.55 L370.95,94.55 L371.14,94.36 L371.33,94.45 L371.52,94.39 L371.72,94.24 L371.91,94.35 L372.10,94.23 L372.29,94.14 L372.48,94.24 L372.67,94.07 L372.87,94.07 L373.06,94.12 L373.25,93.93 L373.44,94.01 L373.63,93.96 L373.82,93.83 L374.02,93.94 L374.21,93.79 L374.40,93.78 L374.59,93.83 L374.78,93.65 L374.97,93.75 L375.17,93.66 L375.36,93.58 L375.55,93.67 L375.74,93.50 L375.93,93.56 L376.12,93.52 L376.32,93.41 L376.51,93.52 L376.70,93.35 L376.89,93.40 L377.08,93.37 L377.27,93.26 L377.47,93.37 L377.66,93.20 L377.85,93.27 L378.04,93.22 L378.23,93.14 L378.42,93.22 L378.62,93.06 L378.81,93.17 L379.00,93.05 L379.19,93.06 L379.38,93.06 L379.57,92.95 L379.77,93.05 L379.96,92.89 L380.15,92.99 L380.34,92.88 L380.53,92.89 L380.72,92.89 L380.92,92.80 L381.11,92.89 L381.30,92.74 L381.49,92.85 L381.68,92.71 L381.87,92.78 L382.07,92.70 L382.26,92.70 L382.45,92.70 L382.64,92.63 L382.83,92.69 L383.02,92.57 L383.22,92.67 L383.41,92.52 L383.60,92.64 L383.79,92.49 L383.98,92.59 L384.17,92.47 L384.37,92.54 L384.56,92.45 L384.75,92.49 L384.94,92.44 L385.13,92.45 L385.32,92.42 L385.52,92.41 L385.71,92.40 L385.90,92.37 L386.09,92.38 L386.28,92.34 L386.47,92.35 L386.67,92.31 L386.86,92.32 L387.05,92.28 L387.24,92.29 L387.43,92.26 L387.62,92.26 L387.82,92.24 L388.01,92.23 L388.20,92.23 L388.39,92.19 L388.58,92.22 L388.77,92.15 L388.97,92.21 L389.16,92.12 L389.35,92.20 L389.54,92.09 L389.73,92.19 L389.92,92.06 L390.12,92.16 L390.31,92.06 L390.50,92.12" stroke="#0000ff" stroke-width="1.3"/>
<path d="M81.50,233.90 L390.50,80.80" stroke="#000" stroke-width="1.1" stroke-dasharray="8.5,4.6"/>
</g>
<rect x="50.50" y="44.70" width="340.00" height="204.70" fill="none" stroke="#111" stroke-width="0.95"/>
<path d="M50.30,249.40 v-4.10 M50.30,44.70 v4.10 M81.33,249.40 v-2.40 M81.33,44.70 v2.40 M99.48,249.40 v-2.40 M99.48,44.70 v2.40 M112.35,249.40 v-2.40 M112.35,44.70 v2.40 M122.34,249.40 v-2.40 M122.34,44.70 v2.40 M130.50,249.40 v-2.40 M130.50,44.70 v2.40 M137.40,249.40 v-2.40 M137.40,44.70 v2.40 M143.38,249.40 v-2.40 M143.38,44.70 v2.40 M148.65,249.40 v-2.40 M148.65,44.70 v2.40 M153.37,249.40 v-4.10 M153.37,44.70 v4.10 M184.40,249.40 v-2.40 M184.40,44.70 v2.40 M202.55,249.40 v-2.40 M202.55,44.70 v2.40 M215.42,249.40 v-2.40 M215.42,44.70 v2.40 M225.41,249.40 v-2.40 M225.41,44.70 v2.40 M233.57,249.40 v-2.40 M233.57,44.70 v2.40 M240.47,249.40 v-2.40 M240.47,44.70 v2.40 M246.45,249.40 v-2.40 M246.45,44.70 v2.40 M251.72,249.40 v-2.40 M251.72,44.70 v2.40 M256.44,249.40 v-4.10 M256.44,44.70 v4.10 M287.47,249.40 v-2.40 M287.47,44.70 v2.40 M305.62,249.40 v-2.40 M305.62,44.70 v2.40 M318.49,249.40 v-2.40 M318.49,44.70 v2.40 M328.48,249.40 v-2.40 M328.48,44.70 v2.40 M336.64,249.40 v-2.40 M336.64,44.70 v2.40 M343.54,249.40 v-2.40 M343.54,44.70 v2.40 M349.52,249.40 v-2.40 M349.52,44.70 v2.40 M354.79,249.40 v-2.40 M354.79,44.70 v2.40 M359.51,249.40 v-4.10 M359.51,44.70 v4.10 M390.54,249.40 v-2.40 M390.54,44.70 v2.40 M50.50,249.40 h4.10 M390.50,249.40 h-4.10 M50.50,233.99 h2.40 M390.50,233.99 h-2.40 M50.50,224.98 h2.40 M390.50,224.98 h-2.40 M50.50,218.59 h2.40 M390.50,218.59 h-2.40 M50.50,213.63 h2.40 M390.50,213.63 h-2.40 M50.50,209.58 h2.40 M390.50,209.58 h-2.40 M50.50,206.15 h2.40 M390.50,206.15 h-2.40 M50.50,203.18 h2.40 M390.50,203.18 h-2.40 M50.50,200.57 h2.40 M390.50,200.57 h-2.40 M50.50,198.23 h4.10 M390.50,198.23 h-4.10 M50.50,182.82 h2.40 M390.50,182.82 h-2.40 M50.50,173.81 h2.40 M390.50,173.81 h-2.40 M50.50,167.41 h2.40 M390.50,167.41 h-2.40 M50.50,162.46 h2.40 M390.50,162.46 h-2.40 M50.50,158.40 h2.40 M390.50,158.40 h-2.40 M50.50,154.98 h2.40 M390.50,154.98 h-2.40 M50.50,152.01 h2.40 M390.50,152.01 h-2.40 M50.50,149.39 h2.40 M390.50,149.39 h-2.40 M50.50,147.05 h4.10 M390.50,147.05 h-4.10 M50.50,131.64 h2.40 M390.50,131.64 h-2.40 M50.50,122.63 h2.40 M390.50,122.63 h-2.40 M50.50,116.24 h2.40 M390.50,116.24 h-2.40 M50.50,111.28 h2.40 M390.50,111.28 h-2.40 M50.50,107.23 h2.40 M390.50,107.23 h-2.40 M50.50,103.80 h2.40 M390.50,103.80 h-2.40 M50.50,100.83 h2.40 M390.50,100.83 h-2.40 M50.50,98.22 h2.40 M390.50,98.22 h-2.40 M50.50,95.88 h4.10 M390.50,95.88 h-4.10 M50.50,80.47 h2.40 M390.50,80.47 h-2.40 M50.50,71.46 h2.40 M390.50,71.46 h-2.40 M50.50,65.06 h2.40 M390.50,65.06 h-2.40 M50.50,60.11 h2.40 M390.50,60.11 h-2.40 M50.50,56.05 h2.40 M390.50,56.05 h-2.40 M50.50,52.63 h2.40 M390.50,52.63 h-2.40 M50.50,49.66 h2.40 M390.50,49.66 h-2.40 M50.50,47.04 h2.40 M390.50,47.04 h-2.40 M50.50,44.70 h4.10 M390.50,44.70 h-4.10" stroke="#000" stroke-width="0.85" fill="none"/>
<rect x="83.50" y="52.80" width="155.20" height="94.40" fill="none" stroke="#222" stroke-width="0.8"/>
<path d="M83.50,147.20 v-3.20 M83.50,52.80 v3.20 M118.90,147.20 v-1.80 M118.90,52.80 v1.80 M139.96,147.20 v-1.80 M139.96,52.80 v1.80 M154.91,147.20 v-1.80 M154.91,52.80 v1.80 M166.50,147.20 v-1.80 M166.50,52.80 v1.80 M175.97,147.20 v-1.80 M175.97,52.80 v1.80 M183.97,147.20 v-1.80 M183.97,52.80 v1.80 M190.91,147.20 v-1.80 M190.91,52.80 v1.80 M197.03,147.20 v-1.80 M197.03,52.80 v1.80 M202.50,147.20 v-3.20 M202.50,52.80 v3.20 M238.50,147.20 v-1.80 M238.50,52.80 v1.80 M83.50,147.50 h3.20 M238.70,147.50 h-3.20 M83.50,128.45 h1.80 M238.70,128.45 h-1.80 M83.50,109.40 h3.20 M238.70,109.40 h-3.20 M83.50,90.35 h1.80 M238.70,90.35 h-1.80 M83.50,71.30 h3.20 M238.70,71.30 h-3.20 M83.50,52.25 h1.80 M238.70,52.25 h-1.80" stroke="#222" stroke-width="0.6" fill="none"/>
<g clip-path="url(#insclip)">
<path d="M83.50,43.80 L118.90,67.10 L139.96,76.80 L154.91,80.30 L166.50,81.00 L175.97,81.40 L183.97,81.60 L190.91,81.80 L197.03,82.00 L202.50,82.00 L223.56,80.20 L238.50,79.60" stroke="#ffa0a0" stroke-width="1" fill="none"/>
<path d="M83.50,48.00 L118.90,75.00 L139.96,84.20 L154.91,85.00 L166.50,85.20 L175.97,85.20 L183.97,85.20 L190.91,85.00 L197.03,84.60 L202.50,84.00 L223.56,80.00 L238.50,79.60" stroke="#ff4848" stroke-width="1" fill="none"/>
</g>
<path d="M83.50,56.20 L118.90,84.20 L139.96,89.50 L154.91,86.60 L166.50,86.80 L175.97,87.00 L183.97,87.00 L190.91,84.70 L197.03,84.00 L202.50,83.30 L223.56,77.60 L238.50,72.40" stroke="#ff0000" stroke-width="1.3" fill="none" stroke-linejoin="round"/>
<circle cx="118.90" cy="67.10" r="2.85" fill="#fff" stroke="#ffa0a0" stroke-width="1"/>
<circle cx="139.96" cy="76.80" r="2.85" fill="#fff" stroke="#ffa0a0" stroke-width="1"/>
<circle cx="154.91" cy="80.30" r="2.85" fill="#fff" stroke="#ffa0a0" stroke-width="1"/>
<circle cx="166.50" cy="81.00" r="2.85" fill="#fff" stroke="#ffa0a0" stroke-width="1"/>
<circle cx="175.97" cy="81.40" r="2.85" fill="#fff" stroke="#ffa0a0" stroke-width="1"/>
<circle cx="183.97" cy="81.60" r="2.85" fill="#fff" stroke="#ffa0a0" stroke-width="1"/>
<circle cx="190.91" cy="81.80" r="2.85" fill="#fff" stroke="#ffa0a0" stroke-width="1"/>
<circle cx="197.03" cy="82.00" r="2.85" fill="#fff" stroke="#ffa0a0" stroke-width="1"/>
<circle cx="202.50" cy="82.00" r="2.85" fill="#fff" stroke="#ffa0a0" stroke-width="1"/>
<circle cx="223.56" cy="80.20" r="2.85" fill="#fff" stroke="#ffa0a0" stroke-width="1"/>
<circle cx="238.50" cy="79.60" r="2.85" fill="#fff" stroke="#ffa0a0" stroke-width="1"/>
<rect x="117.30" y="73.40" width="3.2" height="3.2" fill="#fff" stroke="#ff4848" stroke-width="1.05"/>
<rect x="138.36" y="82.60" width="3.2" height="3.2" fill="#fff" stroke="#ff4848" stroke-width="1.05"/>
<rect x="153.31" y="83.40" width="3.2" height="3.2" fill="#fff" stroke="#ff4848" stroke-width="1.05"/>
<rect x="164.90" y="83.60" width="3.2" height="3.2" fill="#fff" stroke="#ff4848" stroke-width="1.05"/>
<rect x="174.37" y="83.60" width="3.2" height="3.2" fill="#fff" stroke="#ff4848" stroke-width="1.05"/>
<rect x="182.37" y="83.60" width="3.2" height="3.2" fill="#fff" stroke="#ff4848" stroke-width="1.05"/>
<rect x="189.31" y="83.40" width="3.2" height="3.2" fill="#fff" stroke="#ff4848" stroke-width="1.05"/>
<rect x="195.43" y="83.00" width="3.2" height="3.2" fill="#fff" stroke="#ff4848" stroke-width="1.05"/>
<rect x="200.90" y="82.40" width="3.2" height="3.2" fill="#fff" stroke="#ff4848" stroke-width="1.05"/>
<rect x="221.96" y="78.40" width="3.2" height="3.2" fill="#fff" stroke="#ff4848" stroke-width="1.05"/>
<rect x="236.90" y="78.00" width="3.2" height="3.2" fill="#fff" stroke="#ff4848" stroke-width="1.05"/>
<path d="M83.50,52.10 l3.00,4.10 l-3.00,4.10 l-3.00,-4.10 z" fill="#fff" stroke="#ff0000" stroke-width="1.2"/>
<path d="M118.90,80.10 l3.00,4.10 l-3.00,4.10 l-3.00,-4.10 z" fill="#fff" stroke="#ff0000" stroke-width="1.2"/>
<path d="M139.96,85.40 l3.00,4.10 l-3.00,4.10 l-3.00,-4.10 z" fill="#fff" stroke="#ff0000" stroke-width="1.2"/>
<path d="M154.91,82.50 l3.00,4.10 l-3.00,4.10 l-3.00,-4.10 z" fill="#fff" stroke="#ff0000" stroke-width="1.2"/>
<path d="M166.50,82.70 l3.00,4.10 l-3.00,4.10 l-3.00,-4.10 z" fill="#fff" stroke="#ff0000" stroke-width="1.2"/>
<path d="M175.97,82.90 l3.00,4.10 l-3.00,4.10 l-3.00,-4.10 z" fill="#fff" stroke="#ff0000" stroke-width="1.2"/>
<path d="M183.97,82.90 l3.00,4.10 l-3.00,4.10 l-3.00,-4.10 z" fill="#fff" stroke="#ff0000" stroke-width="1.2"/>
<path d="M190.91,80.60 l3.00,4.10 l-3.00,4.10 l-3.00,-4.10 z" fill="#fff" stroke="#ff0000" stroke-width="1.2"/>
<path d="M197.03,79.90 l3.00,4.10 l-3.00,4.10 l-3.00,-4.10 z" fill="#fff" stroke="#ff0000" stroke-width="1.2"/>
<path d="M202.50,79.20 l3.00,4.10 l-3.00,4.10 l-3.00,-4.10 z" fill="#fff" stroke="#ff0000" stroke-width="1.2"/>
<path d="M223.56,73.50 l3.00,4.10 l-3.00,4.10 l-3.00,-4.10 z" fill="#fff" stroke="#ff0000" stroke-width="1.2"/>
<path d="M238.50,68.30 l3.00,4.10 l-3.00,4.10 l-3.00,-4.10 z" fill="#fff" stroke="#ff0000" stroke-width="1.2"/>


<path d="M166.50,89.10 V92.10 M164.90,89.10 h3.20 M164.90,92.10 h3.20" stroke="#0000ff" stroke-width="0.90" fill="none"/>
<path d="M175.97,83.00 V97.00 M174.37,83.00 h3.20 M174.37,97.00 h3.20" stroke="#0000ff" stroke-width="0.90" fill="none"/>
<path d="M202.50,76.80 V89.40 M200.90,76.80 h3.20 M200.90,89.40 h3.20" stroke="#0000ff" stroke-width="0.90" fill="none"/>
<path d="M139.96,96.30 L154.91,90.30 L166.50,90.60 L175.97,90.00 L202.50,83.10" stroke="#0000ff" stroke-width="1.5" fill="none"/>
<path d="M139.96,91.40 L141.06,94.79 L144.62,94.79 L141.74,96.88 L142.84,100.26 L139.96,98.17 L137.08,100.26 L138.18,96.88 L135.30,94.79 L138.86,94.79z" fill="#0000ff" stroke="#0000ff" stroke-width="0.5"/>
<path d="M154.91,85.40 L156.01,88.79 L159.57,88.79 L156.69,90.88 L157.79,94.26 L154.91,92.17 L152.03,94.26 L153.13,90.88 L150.25,88.79 L153.81,88.79z" fill="#0000ff" stroke="#0000ff" stroke-width="0.5"/>
<path d="M166.50,85.70 L167.60,89.09 L171.16,89.09 L168.28,91.18 L169.38,94.56 L166.50,92.47 L163.62,94.56 L164.72,91.18 L161.84,89.09 L165.40,89.09z" fill="#0000ff" stroke="#0000ff" stroke-width="0.5"/>
<path d="M175.97,85.10 L177.07,88.49 L180.63,88.49 L177.75,90.58 L178.85,93.96 L175.97,91.87 L173.09,93.96 L174.19,90.58 L171.31,88.49 L174.87,88.49z" fill="#0000ff" stroke="#0000ff" stroke-width="0.5"/>
<path d="M202.50,78.20 L203.60,81.59 L207.16,81.59 L204.28,83.68 L205.38,87.06 L202.50,84.97 L199.62,87.06 L200.72,83.68 L197.84,81.59 L201.40,81.59z" fill="#0000ff" stroke="#0000ff" stroke-width="0.5"/>



<path d="M166.50,87.80 V92.80 M164.90,87.80 h3.20 M164.90,92.80 h3.20" stroke="#6c6ce9" stroke-width="0.90" fill="none"/>
<path d="M175.97,83.70 V97.30 M174.37,83.70 h3.20 M174.37,97.30 h3.20" stroke="#6c6ce9" stroke-width="0.90" fill="none"/>
<path d="M202.50,76.80 V89.60 M200.90,76.80 h3.20 M200.90,89.60 h3.20" stroke="#6c6ce9" stroke-width="0.90" fill="none"/>
<path d="M118.90,112.00 L139.96,102.70 L154.91,94.80 L166.50,90.30 L175.97,90.50 L202.50,83.20" stroke="#6c6ce9" stroke-width="1.45" fill="none" stroke-dasharray="7.5,4.5"/>
<path d="M118.90,107.50 l3.30,4.50 l-3.30,4.50 l-3.30,-4.50 z" fill="#6c6ce9" stroke="#6c6ce9" stroke-width="0.5"/>
<path d="M139.96,98.20 l3.30,4.50 l-3.30,4.50 l-3.30,-4.50 z" fill="#6c6ce9" stroke="#6c6ce9" stroke-width="0.5"/>
<path d="M154.91,90.30 l3.30,4.50 l-3.30,4.50 l-3.30,-4.50 z" fill="#6c6ce9" stroke="#6c6ce9" stroke-width="0.5"/>
<path d="M166.50,85.80 l3.30,4.50 l-3.30,4.50 l-3.30,-4.50 z" fill="#6c6ce9" stroke="#6c6ce9" stroke-width="0.5"/>
<path d="M175.97,86.00 l3.30,4.50 l-3.30,4.50 l-3.30,-4.50 z" fill="#6c6ce9" stroke="#6c6ce9" stroke-width="0.5"/>
<path d="M202.50,78.70 l3.30,4.50 l-3.30,4.50 l-3.30,-4.50 z" fill="#6c6ce9" stroke="#6c6ce9" stroke-width="0.5"/>
<text x="101.40" y="16.50" font-size="13.10" text-anchor="middle" font-style="italic" font-weight="normal" >ultrashort time</text>
<text x="101.60" y="32.60" font-size="13.10" text-anchor="middle" font-style="italic" font-weight="normal" >response</text>
<text x="252.40" y="16.90" font-size="13.10" text-anchor="middle" font-style="italic" font-weight="normal" >linear</text>
<text x="252.40" y="33.80" font-size="13.10" text-anchor="middle" font-style="italic" font-weight="normal" >response</text>
<text x="356.90" y="23.70" font-size="13.10" text-anchor="middle" font-style="italic" font-weight="normal" >saturation</text>
<text x="25.0" y="51.30" font-size="12.8" font-style="italic">10<tspan dy="-4.8" font-size="9.3">-3</tspan></text>
<text x="25.0" y="102.40" font-size="12.8" font-style="italic">10<tspan dy="-4.8" font-size="9.3">-4</tspan></text>
<text x="25.0" y="153.50" font-size="12.8" font-style="italic">10<tspan dy="-4.8" font-size="9.3">-5</tspan></text>
<text x="25.0" y="204.60" font-size="12.8" font-style="italic">10<tspan dy="-4.8" font-size="9.3">-6</tspan></text>
<text x="25.0" y="255.70" font-size="12.8" font-style="italic">10<tspan dy="-4.8" font-size="9.3">-7</tspan></text>
<text x="41.00" y="269.3" font-size="12.8" font-style="italic">10<tspan dy="-4.8" font-size="9.3">0</tspan></text>
<text x="144.07" y="269.3" font-size="12.8" font-style="italic">10<tspan dy="-4.8" font-size="9.3">1</tspan></text>
<text x="247.14" y="269.3" font-size="12.8" font-style="italic">10<tspan dy="-4.8" font-size="9.3">2</tspan></text>
<text x="350.21" y="269.3" font-size="12.8" font-style="italic">10<tspan dy="-4.8" font-size="9.3">3</tspan></text>
<text x="203.7" y="281.9" font-size="12.9" font-style="italic" word-spacing="0.7">time t J</text>
<g transform="translate(10.9,203.9) rotate(-90)"><text x="0" y="0" font-size="12.9" font-style="italic">energy spread</text><path d="M85.30,-8.70 L81.70,-2.35 L85.30,4.00" fill="none" stroke="#111" stroke-width="0.80"/><text transform="translate(87.80,0.40) scale(1.000,1)" font-size="13.60">(</text><text transform="translate(95.00,0.00) scale(1.280,1)" font-size="11.60">Δ</text><text transform="translate(106.30,0.00) scale(1.280,1)" font-size="11.60" font-style="italic">E</text><text transform="translate(117.40,0.40) scale(1.000,1)" font-size="13.60">)</text><text transform="translate(122.10,-5.00) scale(1.050,1)" font-size="7.30">2</text><path d="M126.30,-8.70 L129.90,-2.35 L126.30,4.00" fill="none" stroke="#111" stroke-width="0.80"/></g>
<path d="M275.6,196.6 H315.1" stroke="#ff0000" stroke-width="1.35"/>
<path d="M275.6,210.8 H315.1" stroke="#0000ff" stroke-width="1.35"/>
<text x="318.5" y="200.70" font-size="11.2" font-style="italic">ω</text>
<text x="326.6" y="200.70" font-size="11.2" font-style="italic" font-weight="bold" letter-spacing="0.35">=0.1J</text>
<text x="318.5" y="214.90" font-size="11.2" font-style="italic">ω</text>
<text x="326.6" y="214.90" font-size="11.2" font-style="italic" font-weight="bold" letter-spacing="0.35">=0.2J</text>
<text transform="translate(248.60,237.10) scale(1.18,1)" font-size="11.60" font-style="italic">A</text>
<text transform="translate(259.60,237.10) scale(1.30,1)" font-size="11.60">=</text>
<text transform="translate(271.60,237.10) scale(0.97,1)" font-size="11.60">0.001</text>
<text transform="translate(297.00,237.10) scale(1.30,1)" font-size="11.60" font-style="italic">J</text>
<text transform="translate(303.60,237.10) scale(1.00,1)" font-size="11.60">,</text>
<text transform="translate(307.90,237.10) scale(1.27,1)" font-size="11.60" font-style="italic">W</text>
<text transform="translate(323.50,237.10) scale(1.30,1)" font-size="11.60">=</text>
<text transform="translate(336.80,237.10) scale(1.10,1)" font-size="11.60">4</text>
<text transform="translate(344.30,237.10) scale(1.35,1)" font-size="11.60" font-style="italic">J</text>
<text x="79.4" y="75.6" font-size="10.6" font-style="italic" text-anchor="end">2</text>
<text x="79.4" y="113.8" font-size="10.6" font-style="italic" text-anchor="end">1</text>
<text x="79.2" y="151.5" font-size="10.6" font-style="italic" text-anchor="end">0</text>
<text x="84.9" y="159.4" font-size="10.6" font-style="italic" text-anchor="end">1</text>
<text x="196.6" y="160.6" font-size="11" font-style="italic">10</text>
<text x="135.0" y="166.1" font-size="11.6" font-style="italic" textLength="52.0" lengthAdjust="spacingAndGlyphs">disorder W</text>
<g transform="translate(67.7,130.9) rotate(-90)"><text x="0" y="0" font-size="11.6" textLength="42.5" lengthAdjust="spacingAndGlyphs">exponent</text><text x="50.6" y="0" font-size="12.5" font-style="italic">α</text></g>
<path d="M138.50,110.90 L136.80,115.25 L138.50,119.60" fill="none" stroke="#111" stroke-width="0.55"/>
<text transform="translate(138.80,118.50) scale(1.00,1)" font-size="8.40" font-style="italic">(</text>
<text transform="translate(141.90,118.20) scale(1.00,1)" font-size="8.20">Δ</text>
<text transform="translate(148.30,118.20) scale(1.25,1)" font-size="8.40" font-style="italic">E</text>
<text transform="translate(155.20,118.50) scale(1.00,1)" font-size="8.40" font-style="italic">)</text>
<text transform="translate(158.90,114.60) scale(1.00,1)" font-size="5.20">2</text>
<path d="M163.00,110.90 L164.70,115.25 L163.00,119.60" fill="none" stroke="#111" stroke-width="0.55"/>
<path d="M119.3,125.8 H149.8" stroke="#0000ff" stroke-width="1.3"/>
<path d="M134.75,121.40 L135.78,124.58 L139.12,124.58 L136.42,126.54 L137.45,129.72 L134.75,127.76 L132.05,129.72 L133.08,126.54 L130.38,124.58 L133.72,124.58z" fill="#0000ff" stroke="#0000ff" stroke-width="0.9"/>
<path d="M120,138.0 h6.8 M143.3,138.0 h6" stroke="#6c6ce9" stroke-width="1.5"/>
<path d="M134.75,133.80 l3.40,4.50 l-3.40,4.50 l-3.40,-4.50 z" fill="#6c6ce9"/>
<text x="152.3" y="128.8" font-size="9" font-style="italic" font-weight="bold">L=12</text>
<text x="152.3" y="140.9" font-size="9" font-style="italic" font-weight="bold">L=14</text>
<text x="198.40" y="109.00" font-size="9.70" text-anchor="start" font-style="italic" font-weight="normal" >Kubo</text>
<path d="M177,116.8 H207.2" stroke="#ffa0a0" stroke-width="1"/>
<circle cx="192.3" cy="116.8" r="2.7" fill="#fff" stroke="#ffa0a0" stroke-width="1"/>
<path d="M177,127.3 H207.2" stroke="#ff4848" stroke-width="1"/>
<rect x="190.9" y="125.9" width="2.8" height="2.8" fill="#ff9a9a" stroke="#ff4848" stroke-width="1.2"/>
<path d="M177,138.2 H207.2" stroke="#ff0000" stroke-width="1.25"/>
<path d="M192.30,134.30 l2.50,3.90 l-2.50,3.90 l-2.50,-3.90 z" fill="#fff" stroke="#ff0000" stroke-width="1.2"/>
<text x="213.5" y="120.00" font-size="8.8" font-style="italic" textLength="19.3" lengthAdjust="spacingAndGlyphs">L=10</text>
<text x="213.5" y="130.60" font-size="8.8" font-style="italic" textLength="19.3" lengthAdjust="spacingAndGlyphs">L=12</text>
<text x="213.5" y="141.30" font-size="8.8" font-style="italic" textLength="19.3" lengthAdjust="spacingAndGlyphs">L=14</text>
</svg>
</body></html>
